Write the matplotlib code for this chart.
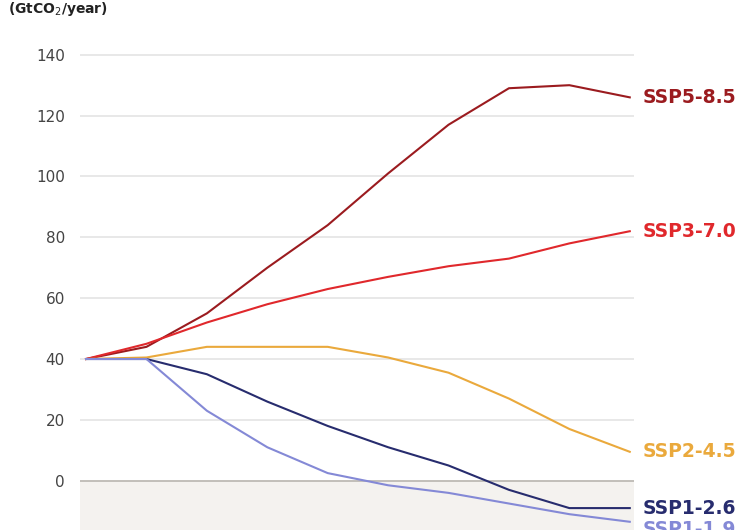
import matplotlib.pyplot as plt

years = [2015, 2020, 2030, 2040, 2050, 2060, 2070, 2080, 2090, 2100]
ssp585 = [40, 44, 55, 70, 84, 101, 117, 129, 130, 126]
ssp370 = [40, 45, 52, 58, 63, 67, 70.5, 73, 78, 82]
ssp245 = [40, 40.5, 44, 44, 44, 40.5, 35.5, 27, 17, 9.5]
ssp126 = [40, 40, 35, 26, 18, 11, 5, -3, -9, -9]
ssp119 = [40, 40, 23, 11, 2.5, -1.5, -4, -7.5, -11, -13.5]

series = [
    ("SSP5-8.5", ssp585, "#9b1b1f"),
    ("SSP3-7.0", ssp370, "#e0282c"),
    ("SSP2-4.5", ssp245, "#eaa93c"),
    ("SSP1-2.6", ssp126, "#272c6e"),
    ("SSP1-1.9", ssp119, "#8489d6"),
]
yticks = [0, 20, 40, 60, 80, 100, 120, 140]

fig = plt.figure(figsize=(7.54, 5.30), dpi=100)
ax = fig.add_axes([80 / 754, 0, (634 - 80) / 754, 1])
xpos = list(range(len(years)))
ax.set_xlim(-0.1, 9.07)
ax.set_ylim(-16.2, 158.0)

ax.axhspan(-20, 0, color="#f4f2ef", zorder=0)
for t in yticks[1:]:
    ax.axhline(t, color="#e6e6e6", lw=1.3, zorder=1)
ax.axhline(0, color="#bdbab5", lw=1.3, zorder=1)

# the last name sits low, partly past the bottom edge, as in the source
label_y = {"SSP1-1.9": -16.0}
for name, vals, col in series:
    ax.plot(xpos, vals, color=col, lw=1.5, zorder=3)
    ax.text(9.22, label_y.get(name, vals[-1]), name, color=col, fontsize=13.5,
            fontweight="bold", va="center", ha="left", clip_on=False)

for t in yticks:
    ax.text(-0.35, t - 0.5, str(t), ha="right", va="center", fontsize=11, color="#444444")

for s in ax.spines.values():
    s.set_visible(False)
ax.set_xticks([])
ax.set_yticks([])

fig.text(8 / 754, 1 - 9 / 530, "(GtCO$_2$/year)", fontsize=10, fontweight="bold",
         color="#222222", va="center", ha="left")

fig.savefig("out.png", dpi=100)
